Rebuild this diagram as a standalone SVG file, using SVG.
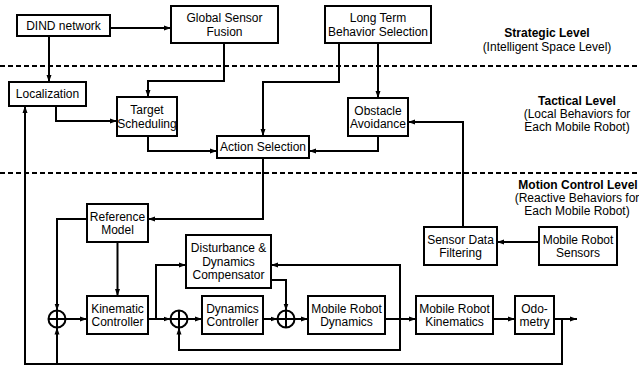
<svg xmlns="http://www.w3.org/2000/svg" width="639" height="367" viewBox="0 0 639 367">
<defs>
<marker id="ah" markerUnits="userSpaceOnUse" markerWidth="8" markerHeight="6" refX="7" refY="3" orient="auto">
<path d="M0,0.5 L7,3 L0,5.5 z" fill="#000"/>
</marker>
<style>
.box{fill:#fff;stroke:#000;stroke-width:2}
.t{font-family:"Liberation Sans",Arial,sans-serif;font-size:12px;fill:#000;text-anchor:middle}
.b{font-weight:bold}
.c{fill:none;stroke:#000;stroke-width:2}
.a{marker-end:url(#ah)}
.d{fill:none;stroke:#000;stroke-width:2;stroke-dasharray:5 3}
.s{fill:#fff;stroke:#000;stroke-width:2}
</style>
</defs>
<rect width="639" height="367" fill="#fff"/>
<g id="levels">
<line class="d" x1="0" y1="66" x2="639" y2="66"/>
<line class="d" x1="0" y1="173" x2="639" y2="173"/>
<text class="t b" x="547" y="37">Strategic Level</text>
<text class="t" x="547" y="51">(Intelligent Space Level)</text>
<text class="t b" x="577" y="104.5">Tactical Level</text>
<text class="t" x="577" y="117.5">(Local Behaviors for</text>
<text class="t" x="577" y="130.5">Each Mobile Robot)</text>
<text class="t b" x="578" y="189">Motion Control Level</text>
<text class="t" x="577" y="202">(Reactive Behaviors for</text>
<text class="t" x="577" y="215">Each Mobile Robot)</text>
</g>
<g id="connectors">
<path class="c a" d="M110,28 H171"/>
<path class="c a" d="M49,36 V82"/>
<path class="c a" d="M224,43 V81 H148 V97"/>
<path class="c a" d="M56,106 V121 H117"/>
<path class="c a" d="M148,136 V151 H217"/>
<path class="c a" d="M339,43 V82 H263 V136"/>
<path class="c a" d="M378,43 V98"/>
<path class="c a" d="M378,136 V151 H309"/>
<path class="c a" d="M463,227 V122 H408"/>
<path class="c a" d="M539,242 H497"/>
<path class="c a" d="M263,158 V219 H148"/>
<path class="c a" d="M87,219 H57 V310.5"/>
<path class="c a" d="M117.5,242 V296"/>
<path class="c a" d="M65.5,319 H87"/>
<path class="c a" d="M148,319 H170.5"/>
<path class="c a" d="M156,319 V265 H186"/>
<path class="c a" d="M187.5,319 H202"/>
<path class="c a" d="M263,319 H277.5"/>
<path class="c a" d="M271,280 H286 V310.5"/>
<path class="c a" d="M294.5,319 H308"/>
<path class="c a" d="M385,319 H416"/>
<path class="c a" d="M400,319 V265 H271"/>
<path class="c a" d="M400,319 V350 H179 V327.5"/>
<path class="c a" d="M493,319 H515"/>
<path class="c a" d="M554,319 H577"/>
<path class="c a" d="M562,319 V364 H25 V106"/>
<path class="c a" d="M57,364 V327.5"/>
</g>
<g id="dind"><rect class="box" x="17" y="15" width="93" height="21"/><text class="t" x="63.5" y="29.5">DIND network</text></g>
<g id="gsf"><rect class="box" x="171" y="6" width="107" height="37"/><text class="t" x="224.5" y="22">Global Sensor</text><text class="t" x="224.5" y="35.5">Fusion</text></g>
<g id="ltbs"><rect class="box" x="325" y="6" width="106" height="37"/><text class="t" x="378" y="22">Long Term</text><text class="t" x="378" y="35.5">Behavior Selection</text></g>
<g id="localization"><rect class="box" x="9" y="82" width="77" height="24"/><text class="t" x="47.5" y="98.3">Localization</text></g>
<g id="target"><rect class="box" x="117" y="97" width="60" height="39"/><text class="t" x="147" y="114">Target</text><text class="t" x="147" y="127.5">Scheduling</text></g>
<g id="obstacle"><rect class="box" x="348" y="98" width="60" height="38"/><text class="t" x="378" y="114.5">Obstacle</text><text class="t" x="378" y="128">Avoidance</text></g>
<g id="action"><rect class="box" x="217" y="136" width="92" height="22"/><text class="t" x="263" y="151.3">Action Selection</text></g>
<g id="refmodel"><rect class="box" x="87" y="204" width="61" height="38"/><text class="t" x="117.5" y="220.5">Reference</text><text class="t" x="117.5" y="234">Model</text></g>
<g id="kinctrl"><rect class="box" x="87" y="296" width="61" height="38"/><text class="t" x="117.5" y="312.5">Kinematic</text><text class="t" x="117.5" y="326">Controller</text></g>
<g id="ddc"><rect class="box" x="186" y="235" width="85" height="53"/><text class="t" x="228.5" y="252">Disturbance &amp;</text><text class="t" x="228.5" y="265.5">Dynamics</text><text class="t" x="228.5" y="279">Compensator</text></g>
<g id="dynctrl"><rect class="box" x="202" y="296" width="61" height="38"/><text class="t" x="232.5" y="312.5">Dynamics</text><text class="t" x="232.5" y="326">Controller</text></g>
<g id="mrd"><rect class="box" x="308" y="296" width="77" height="38"/><text class="t" x="346.5" y="312.5">Mobile Robot</text><text class="t" x="346.5" y="326">Dynamics</text></g>
<g id="mrk"><rect class="box" x="416" y="296" width="77" height="38"/><text class="t" x="454.5" y="312.5">Mobile Robot</text><text class="t" x="454.5" y="326">Kinematics</text></g>
<g id="odometry"><rect class="box" x="515" y="296" width="39" height="38"/><text class="t" x="534.5" y="312.5">Odo-</text><text class="t" x="534.5" y="326">metry</text></g>
<g id="sdf"><rect class="box" x="424" y="227" width="73" height="38"/><text class="t" x="460.5" y="243.5">Sensor Data</text><text class="t" x="460.5" y="257">Filtering</text></g>
<g id="mrs"><rect class="box" x="539" y="227" width="78" height="38"/><text class="t" x="578" y="243.5">Mobile Robot</text><text class="t" x="578" y="257">Sensors</text></g>
<g id="sum1"><circle class="s" cx="57" cy="319" r="8.5"/><path class="c" d="M48.5,319 H65.5 M57,310.5 V327.5"/></g>
<g id="sum2"><circle class="s" cx="179" cy="319" r="8.5"/><path class="c" d="M170.5,319 H187.5 M179,310.5 V327.5"/></g>
<g id="sum3"><circle class="s" cx="286" cy="319" r="8.5"/><path class="c" d="M277.5,319 H294.5 M286,310.5 V327.5"/></g>
</svg>
